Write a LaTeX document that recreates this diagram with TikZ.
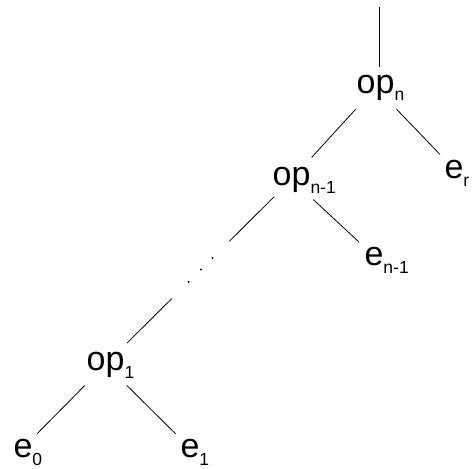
\documentclass[tikz,border=0pt]{standalone}
\usepackage{fontspec}
\setmainfont{Liberation Sans}
\usetikzlibrary{calc}
\newcommand{\lowsub}[1]{\raisebox{-8pt}[0pt][0pt]{\fontsize{17.5}{17.5}\selectfont #1}}

\begin{document}
\begin{tikzpicture}[x=1pt, y=-1pt,
    treenode/.style={circle, inner sep=0pt, outer sep=7pt, anchor=base, font={\fontsize{34}{40}\selectfont}},
    link/.style={line width=0.8pt}]
    \useasboundingbox (0,0) rectangle (473,468);

    % Operator nodes
    \node[treenode] (opn) at (375.6,93) {op\rlap{\lowsub{n}}};
    \node[treenode] (opn1) at (291.6,185) {op\rlap{\lowsub{n-1}}};
    \node[treenode] (op1) at (105.6,370) {op\rlap{\lowsub{1}}};

    % Operand nodes
    \node[treenode] (er) at (454,178) {e\rlap{\lowsub{r}}};
    \node[treenode] (en1) at (374,265) {e\rlap{\lowsub{n-1}}};
    \node[treenode] (e0) at (23,457) {e\rlap{\lowsub{0}}};
    \node[treenode] (e1) at (190,457) {e\rlap{\lowsub{1}}};

    % Edges
    \coordinate (root) at (379,7);
    \draw[link, shorten >=-9pt] (root) -- (root |- opn.north);
    \draw[link] (opn) -- (opn1);
    \draw[link] (opn) -- (er);
    \draw[link] (opn1) -- (en1);
    \draw[link] (op1) -- (e0);
    \draw[link] (op1) -- (e1);

    % Left spine with the skipped levels
    \draw[link] ($(opn1)!0.093!(op1)$) -- ($(opn1)!0.335!(op1)$);
    \foreach \t in {0.425,0.487,0.554}
        \fill ($(opn1)!\t!(op1)$) circle (1.1pt);
    \draw[link] ($(opn1)!0.643!(op1)$) -- ($(opn1)!0.885!(op1)$);
\end{tikzpicture}
\end{document}
